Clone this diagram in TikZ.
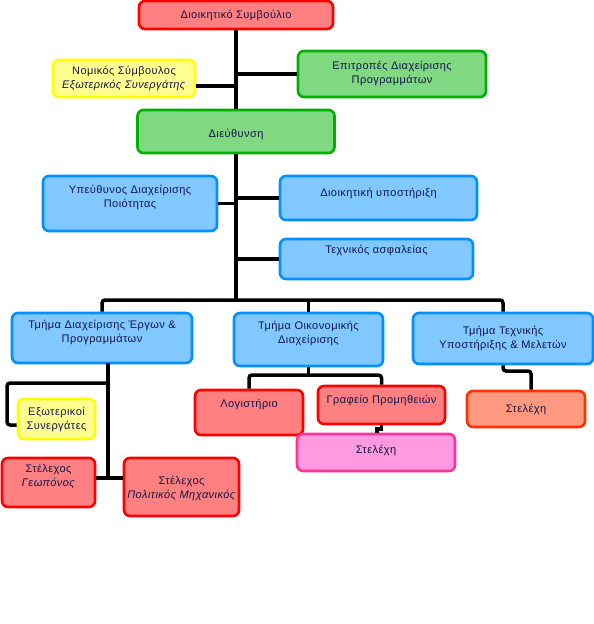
\documentclass[tikz,border=0pt]{standalone}
\usepackage{fontspec}
\setmainfont[LetterSpace=4]{Liberation Sans}
\definecolor{txtc}{rgb}{0.08,0.08,0.28}
\definecolor{redB}{HTML}{FF0000}\definecolor{redF}{HTML}{FF8080}
\definecolor{grnB}{HTML}{00B000}\definecolor{grnF}{HTML}{80D880}
\definecolor{bluB}{HTML}{0090FF}\definecolor{bluF}{HTML}{80C8FF}
\definecolor{yelB}{HTML}{FFFF00}\definecolor{yelF}{HTML}{FFFF90}
\definecolor{pnkB}{HTML}{FF3399}\definecolor{pnkF}{HTML}{FF99E0}
\definecolor{orgB}{HTML}{FF3300}\definecolor{orgF}{HTML}{FF9980}
\tikzset{
  box/.style={draw=#1B, fill=#1F, line width=2.6pt, rounded corners=6pt, inner sep=0pt},
  txt/.style={font=\fontsize{11}{14}\selectfont, text=txtc, align=center},
  conn/.style={draw=black, line width=3.5pt, rounded corners=3pt}
}
\begin{document}
\begin{tikzpicture}[x=1pt,y=-1pt]
\useasboundingbox (0,0) rectangle (594,624);
% boxes
\node[box=red, minimum width=194pt, minimum height=28pt,
  label={[txt]center:Διοικητικό Συμβούλιο}] (dsb) at (236,15) {};
\node[box=yel, minimum width=142pt, minimum height=37pt,
  label={[txt]center:Νομικός Σύμβουλος\\\textit{Εξωτερικός Συνεργάτης}}] (nom) at (124,78.5) {};
\node[box=grn, minimum width=188pt, minimum height=46pt,
  label={[txt,yshift=1pt]center:Επιτροπές Διαχείρισης\\Προγραμμάτων}] (epi) at (392,74) {};
\node[box=grn, minimum width=197pt, minimum height=43pt,
  label={[txt,yshift=-3pt]center:Διεύθυνση}] (die) at (236,131.5) {};
\node[box=blu, minimum width=174pt, minimum height=55pt,
  label={[txt,yshift=6pt]center:Υπεύθυνος Διαχείρισης\\Ποιότητας}] (ypd) at (130,203.5) {};
\node[box=blu, minimum width=197pt, minimum height=44pt,
  label={[txt,yshift=5pt]center:Διοικητική υποστήριξη}] (dyp) at (378.5,198) {};
\node[box=blu, minimum width=193pt, minimum height=40pt,
  label={[txt,yshift=9pt]center:Τεχνικός ασφαλείας}] (tas) at (376.5,259) {};
\node[box=blu, minimum width=180pt, minimum height=50pt,
  label={[txt,yshift=6pt]center:Τμήμα Διαχείρισης Έργων \&\\Προγραμμάτων}] (tde) at (102,338) {};
\node[box=blu, minimum width=149pt, minimum height=53pt,
  label={[txt,yshift=6pt]center:Τμήμα Οικονομικής\\Διαχείρισης}] (toi) at (308.5,339.5) {};
\node[box=blu, minimum width=180pt, minimum height=51pt,
  label={[txt]center:Τμήμα Τεχνικής\\Υποστήριξης \& Μελετών}] (tte) at (503,338.5) {};
\node[box=yel, minimum width=77pt, minimum height=40pt,
  label={[txt]center:Εξωτερικοί\\Συνεργάτες}] (exs) at (56.5,419) {};
\node[box=red, minimum width=93pt, minimum height=49pt,
  label={[txt,yshift=6pt]center:Στέλεχος\\\textit{Γεωπόνος}}] (geo) at (48.5,482.5) {};
\node[box=red, minimum width=115pt, minimum height=58pt,
  label={[txt,yshift=-1pt]center:Στέλεχος\\\textit{Πολιτικός Μηχανικός}}] (pol) at (181.5,487) {};
\node[box=red, minimum width=108pt, minimum height=45pt,
  label={[txt,yshift=8pt]center:Λογιστήριο}] (log) at (249,412.5) {};
\node[box=red, minimum width=127pt, minimum height=38pt,
  label={[txt,yshift=5pt]center:Γραφείο Προμηθειών}] (gra) at (381.5,405) {};
\node[box=pnk, minimum width=158pt, minimum height=37pt,
  label={[txt,yshift=2pt]center:Στελέχη}] (st1) at (376,452.5) {};
\node[box=org, minimum width=118pt, minimum height=36pt,
  label={[txt]center:Στελέχη}] (st2) at (526,409) {};
% junction coordinates
\coordinate (j1) at (236,86);
\coordinate (bus) at (236,300);
\coordinate (k0) at (108,363);
\coordinate (k1) at (108,478);
\coordinate (e1) at (108,383);
\coordinate (e2) at (7,425);
\coordinate (m1) at (308,375);
\coordinate (g1) at (377,429);
\coordinate (s1) at (531,371);
% connectors
\draw[conn] (dsb) -- (die);
\draw[conn] (j1) -- (nom.east |- j1);
\draw[conn] (epi.west -| die.north) -- (epi.west);
\draw[conn] (die) -- (bus);
\draw[conn] (ypd.east) -- (ypd.east -| die.south);
\draw[conn] (dyp.west) -- (dyp.west -| die.south);
\draw[conn] (tas.west) -- (tas.west -| die.south);
\draw[conn] (tde.north) |- (bus) -| (tte.north);
\draw[conn] (toi.north |- bus) -- (toi.north);
\draw[conn] (k0) -- (k1);
\draw[conn] (e1) -| (e2) -- (e2 -| exs.west);
\draw[conn] (geo.east |- k1) -- (pol.west |- k1);
\draw[conn] (toi.south) -- (toi.south |- m1);
\draw[conn] (log.north) |- (gra.north |- m1) -- (gra.north);
\draw[conn, rounded corners=0pt] (gra.south) |- (g1) -- (st1.north -| g1);
\draw[conn] (tte.south) |- (s1) -- (s1 |- st2.north);
\end{tikzpicture}
\end{document}
